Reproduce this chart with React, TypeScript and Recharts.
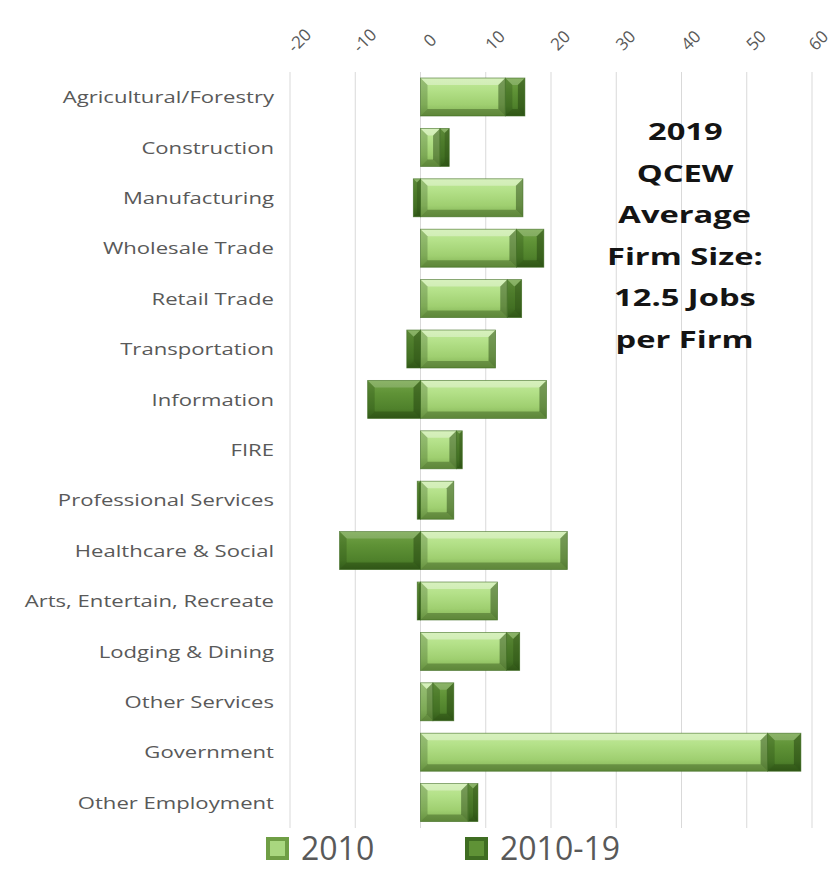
import { BarChart, Bar, XAxis, YAxis, CartesianGrid, Legend } from 'recharts';

// categories, top to bottom
const categories = [
  'Agricultural/Forestry',
  'Construction',
  'Manufacturing',
  'Wholesale Trade',
  'Retail Trade',
  'Transportation',
  'Information',
  'FIRE',
  'Professional Services',
  'Healthcare & Social',
  'Arts, Entertain, Recreate',
  'Lodging & Dining',
  'Other Services',
  'Government',
  'Other Employment',
];

// average firm size in 2010
const size2010 = [13, 3, 15.7, 14.7, 13.3, 11.5, 19.3, 5.5, 5.1, 22.5, 11.8, 13.2, 1.9, 53.2, 7.3];
// change 2010-19
const change1019 = [3, 1.4, -1.1, 4.2, 2.2, -2.1, -8.1, 0.9, -0.5, -12.4, -0.5, 2.0, 3.2, 5.1, 1.5];

const xTicks = [-20, -10, 0, 10, 20, 30, 40, 50, 60];
const seriesNames = ['2010', '2010-19'];
const noteLines = ['2019', 'QCEW', 'Average', 'Firm Size:', '12.5 Jobs', 'per Firm'];

const data = categories.map((name, i) => ({ name, y2010: size2010[i], chg: change1019[i] }));

const FONT = '"Open Sans", "DejaVu Sans", sans-serif';
const GRAY = '#595959';

// bevelled bar, like the Excel "cool slant" look
const BevelBar = (props: any) => {
  let { x, y, width, height } = props;
  const dark = props.variant === 'dark';
  if (width < 0) { x += width; width = -width; }
  if (height < 0) { y += height; height = -height; }
  if (!width || !height) return null;
  const b = Math.min(7, width / 2, height / 2);
  const r = x + width;
  const bt = y + height;
  return (
    <g>
      <rect x={x} y={y} width={width} height={height} fill={dark ? 'url(#gDark)' : 'url(#gLight)'} />
      <polygon points={`${x},${y} ${r},${y} ${r - b},${y + b} ${x + b},${y + b}`} fill="#ffffff" fillOpacity={dark ? 0.18 : 0.35} />
      <polygon points={`${x},${bt} ${r},${bt} ${r - b},${bt - b} ${x + b},${bt - b}`} fill="#1c3a0a" fillOpacity={0.35} />
      <polygon points={`${x},${y} ${x + b},${y + b} ${x + b},${bt - b} ${x},${bt}`} fill="#1c3a0a" fillOpacity={0.25} />
      <polygon points={`${r},${y} ${r - b},${y + b} ${r - b},${bt - b} ${r},${bt}`} fill="#1c3a0a" fillOpacity={0.45} />
      <rect x={x} y={y} width={width} height={height} fill="none" stroke="#3f6b22" strokeOpacity={0.7} strokeWidth={0.8} />
    </g>
  );
};

const XTick = ({ x, y, payload }: any) => {
  const cx = Math.min(x + 9, 818);
  const cy = y - 24;
  return (
    <text
      x={cx}
      y={cy}
      transform={`rotate(-45, ${cx}, ${cy})`}
      textAnchor="middle"
      dominantBaseline="central"
      fill={GRAY}
      fontSize={17}
      fontFamily={FONT}
    >
      {payload.value}
    </text>
  );
};

const YTick = ({ x, y, payload }: any) => (
  <g transform={`translate(${x},${y}) scale(1.3,1)`}>
    <text x={0} y={0} dy="0.35em" textAnchor="end" fill={GRAY} fontSize={17} fontFamily={FONT}>
      {payload.value}
    </text>
  </g>
);

const LegendBox = () => (
  <div style={{ position: 'relative', width: 832, height: 41 }}>
    {seriesNames.map((s, i) => (
      <div
        key={s}
        style={{
          position: 'absolute',
          left: i === 0 ? 266 : 465,
          top: 0,
          height: 40,
          display: 'flex',
          alignItems: 'center',
        }}
      >
        <svg width={23} height={23} style={{ marginRight: 12, flex: 'none' }}>
          <rect x={0} y={0} width={23} height={23} fill={i === 0 ? '#6f9e45' : '#3f6d22'} />
          <rect x={4} y={4} width={15} height={15} fill={i === 0 ? '#a9d77f' : '#5f9236'} />
        </svg>
        <span style={{ fontFamily: FONT, fontSize: 32, color: GRAY, lineHeight: '40px', whiteSpace: 'nowrap' }}>{s}</span>
      </div>
    ))}
  </div>
);

export default function App() {
  return (
    <div style={{ position: 'absolute', left: 0, top: 0, width: 832, height: 869, background: '#fff' }}>
      <BarChart
        width={832}
        height={869}
        data={data}
        layout="vertical"
        stackOffset="sign"
        margin={{ top: 0, right: 20, bottom: 0, left: 0 }}
      >
        <defs>
          <linearGradient id="gLight" x1="0" y1="0" x2="0" y2="1">
            <stop offset="0" stopColor="#c2e99a" />
            <stop offset="0.3" stopColor="#b4e189" />
            <stop offset="0.7" stopColor="#9fcf70" />
            <stop offset="1" stopColor="#80af53" />
          </linearGradient>
          <linearGradient id="gDark" x1="0" y1="0" x2="0" y2="1">
            <stop offset="0" stopColor="#72a347" />
            <stop offset="0.35" stopColor="#5f9236" />
            <stop offset="0.75" stopColor="#4f812b" />
            <stop offset="1" stopColor="#3a651e" />
          </linearGradient>
        </defs>
        <CartesianGrid horizontal={false} stroke="#d9d9d9" />
        <XAxis
          type="number"
          orientation="top"
          domain={[-20, 60]}
          ticks={xTicks}
          interval={0}
          height={72}
          axisLine={false}
          tickLine={false}
          tick={<XTick />}
        />
        <YAxis
          type="category"
          dataKey="name"
          width={290}
          axisLine={false}
          tickLine={false}
          tickSize={0}
          tickMargin={16}
          interval={0}
          tick={<YTick />}
        />
        <Legend verticalAlign="bottom" content={<LegendBox />} wrapperStyle={{ left: 0, bottom: 0 }} />
        <Bar
          dataKey="y2010"
          name="2010"
          stackId="a"
          barSize={38}
          isAnimationActive={false}
          shape={(p: any) => <BevelBar {...p} variant="light" />}
        />
        <Bar
          dataKey="chg"
          name="2010-19"
          stackId="a"
          barSize={38}
          isAnimationActive={false}
          shape={(p: any) => <BevelBar {...p} variant="dark" />}
        />
      </BarChart>
      <div style={{ position: 'absolute', left: 585, top: 111, width: 200, textAlign: 'center' }}>
        {noteLines.map((t) => (
          <div key={t} style={{ height: 41.6, lineHeight: '41.6px' }}>
            <span
              style={{
                display: 'inline-block',
                transform: 'scaleX(1.42)',
                fontFamily: FONT,
                fontWeight: 700,
                fontSize: 23,
                color: '#141414',
              }}
            >
              {t}
            </span>
          </div>
        ))}
      </div>
    </div>
  );
}
